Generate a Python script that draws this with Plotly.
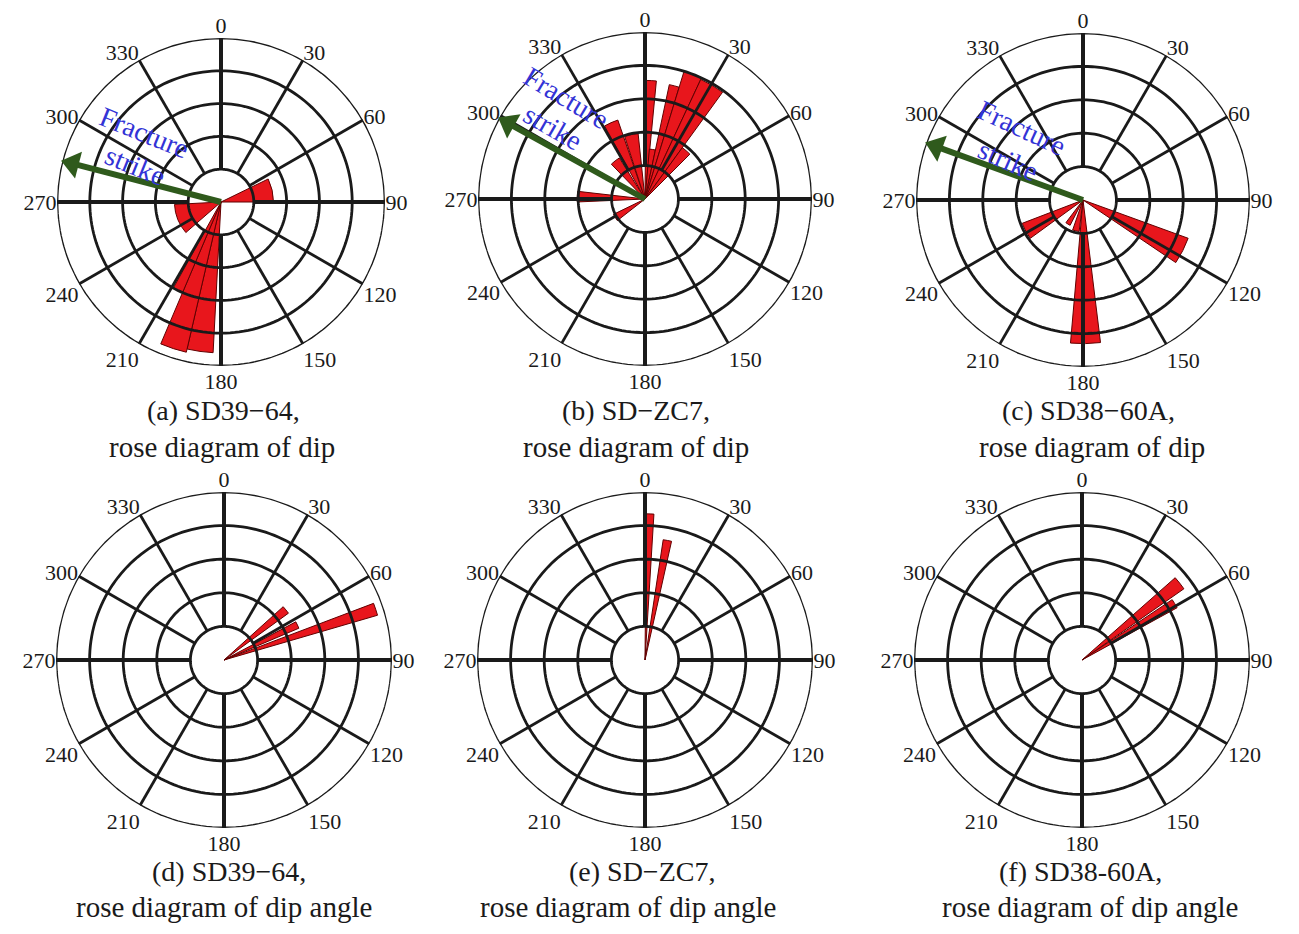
import plotly.graph_objects as go
import numpy as np

W, H = 1299, 934
OFF = 8                      # default page margin of the html body
FW, FH = W - 2 * OFF, H - 2 * OFF

# ---------------- data ----------------
# angle tick labels
tick_vals = [0, 30, 60, 90, 120, 150, 180, 210, 240, 270, 300, 330]
tick_text = [str(v) for v in tick_vals]

# (a) SD39-64, dip
a_theta = [77, 248, 188, 198, 206]
a_width = [26, 38, 10, 10, 6]
a_r = [1.6, 1.42, 4.6, 4.7, 3.0]

# (b) SD-ZC7, dip
b_theta = [3, 8.5, 14.5, 21, 30.5, 40.5, 336, 348, 322, 272, 238]
b_width = [5, 7, 5, 8, 11, 9, 10, 12, 12, 9, 12]
b_r = [3.55, 1.5, 3.5, 4.0, 3.95, 1.9, 2.5, 1.97, 1.45, 2.03, 1.05]

# (c) SD38-60A, dip
c_theta = [117, 179, 193, 212, 241.5]
c_width = [14, 12, 12, 10, 15]
c_r = [3.35, 4.3, 0.95, 0.85, 1.95]

# (d) SD39-64, dip angle
d_theta = [51, 64.5, 71.5]
d_width = [6, 5, 4.5]
d_r = [2.37, 2.42, 4.76]

# (e) SD-ZC7, dip angle
e_theta = [2, 10.6]
e_width = [3, 4]
e_r = [4.35, 3.62]

# (f) SD38-60A, dip angle
f_theta = [51.8, 58.7]
f_width = [6.5, 5]
f_r = [3.7, 3.23]

# fracture strike direction (top row)
strike_theta = [284.5, 299, 290]
strike_len = [4.72, 4.72, 4.72]

captions_1 = ["(a) SD39−64,", "(b) SD−ZC7,", "(c) SD38−60A,",
              "(d) SD39−64,", "(e) SD−ZC7,", "(f) SD38-60A,"]
captions_2 = ["rose diagram of dip", "rose diagram of dip", "rose diagram of dip",
              "rose diagram of dip angle", "rose diagram of dip angle", "rose diagram of dip angle"]

# ---------------- layout geometry (page pixels) ----------------
centers = [(221, 202, 164), (645, 199, 167), (1083, 200, 167),
           (224, 660, 168), (645, 660, 168), (1082, 660, 168)]
cap_pos = [(223, 410, 222, 447), (636, 410, 636, 447), (1088, 410, 1092, 447),
           (229, 871, 224, 907), (642, 871, 628, 907), (1080, 871, 1090, 907)]
strike_text_pos = [((144, 132, 22), (135, 166, 22)),
                   ((566, 97, 31), (553, 127, 30)),
                   ((1021, 128, 25), (1008, 161, 24))]

panel_data = [(a_theta, a_width, a_r), (b_theta, b_width, b_r), (c_theta, c_width, c_r),
              (d_theta, d_width, d_r), (e_theta, e_width, e_r), (f_theta, f_width, f_r)]

RED = "#e8161c"
GREEN = "#2f5a1c"
BLUE = "#3333d6"
INK = "#1a1a1a"
SERIF = "Liberation Serif"


def px(x):
    return (x - OFF) / FW


def py(y):
    return 1 - (y - OFF) / FH


fig = go.Figure()
layout = {}
annotations = []

ring_theta = list(np.arange(0, 361, 2))

for i, ((cx, cy, R), (th, wd, rr)) in enumerate(zip(centers, panel_data)):
    key = "polar" if i == 0 else f"polar{i+1}"
    sub = key
    layout[key] = dict(
        domain=dict(x=[px(cx - R), px(cx + R)], y=[py(cy + R), py(cy - R)]),
        bgcolor="white",
        angularaxis=dict(direction="clockwise", rotation=90, tickvals=tick_vals,
                         ticktext=tick_text, showgrid=False, showline=False, ticks="",
                         tickfont=dict(family=SERIF, size=22, color=INK)),
        radialaxis=dict(range=[0, 5], visible=False, showgrid=False),
    )
    # rings
    rr_list, th_list = [], []
    for ring in [1, 2, 3, 4, 5]:
        rr_list += [ring] * len(ring_theta) + [None]
        th_list += ring_theta + [None]
    fig.add_trace(go.Scatterpolar(r=rr_list, theta=th_list, mode="lines", cliponaxis=False,
                                  line=dict(color=INK, width=2.8), hoverinfo="skip",
                                  showlegend=False, subplot=sub))
    # spokes
    sr, st = [], []
    for ang in [30, 60, 120, 150, 210, 240, 300, 330]:
        sr += [1, 5, None]
        st += [ang, ang, None]
    fig.add_trace(go.Scatterpolar(r=sr, theta=st, mode="lines", cliponaxis=False,
                                  line=dict(color=INK, width=2.8), hoverinfo="skip",
                                  showlegend=False, subplot=sub))
    mr, mt = [], []
    for ang in [0, 90, 180, 270]:
        mr += [1, 5, None]
        mt += [ang, ang, None]
    fig.add_trace(go.Scatterpolar(r=mr, theta=mt, mode="lines", cliponaxis=False,
                                  line=dict(color=INK, width=4), hoverinfo="skip",
                                  showlegend=False, subplot=sub))
    # rose wedges
    fig.add_trace(go.Barpolar(r=rr, theta=th, width=wd, base=0,
                              marker=dict(color=RED, line=dict(color="#600000", width=1)),
                              showlegend=False, subplot=sub))
    # strike arrows (top row)
    if i < 3:
        s = strike_theta[i]
        L = strike_len[i]
        fig.add_trace(go.Scatterpolar(r=[0, L - 0.2], theta=[s, s], mode="lines",
                                      cliponaxis=False,
                                      line=dict(color=GREEN, width=6), hoverinfo="skip",
                                      showlegend=False, subplot=sub))
        fig.add_trace(go.Scatterpolar(r=[L - 0.05], theta=[s], mode="markers", cliponaxis=False,
                                      marker=dict(symbol="triangle-up", size=24, angle=s,
                                                  color=GREEN),
                                      hoverinfo="skip", showlegend=False, subplot=sub))
        for (tx, ty, ta), txt in zip(strike_text_pos[i], ["Fracture", "strike"]):
            annotations.append(dict(x=px(tx), y=py(ty), xref="paper", yref="paper",
                                    text=txt, showarrow=False, textangle=ta,
                                    xanchor="center", yanchor="middle",
                                    font=dict(family=SERIF, size=28, color=BLUE)))
    x1, y1, x2, y2 = cap_pos[i]
    annotations.append(dict(x=px(x1), y=py(y1), xref="paper", yref="paper",
                            text=captions_1[i], showarrow=False, xanchor="center",
                            yanchor="middle", font=dict(family=SERIF, size=28, color=INK)))
    annotations.append(dict(x=px(x2), y=py(y2), xref="paper", yref="paper",
                            text=captions_2[i], showarrow=False, xanchor="center",
                            yanchor="middle", font=dict(family=SERIF, size=29, color=INK)))

fig.update_layout(**layout)
fig.update_layout(width=FW, height=FH, margin=dict(l=0, r=0, t=0, b=0),
                  paper_bgcolor="white", plot_bgcolor="white",
                  annotations=annotations, showlegend=False)

fig.write_html("out.html")
